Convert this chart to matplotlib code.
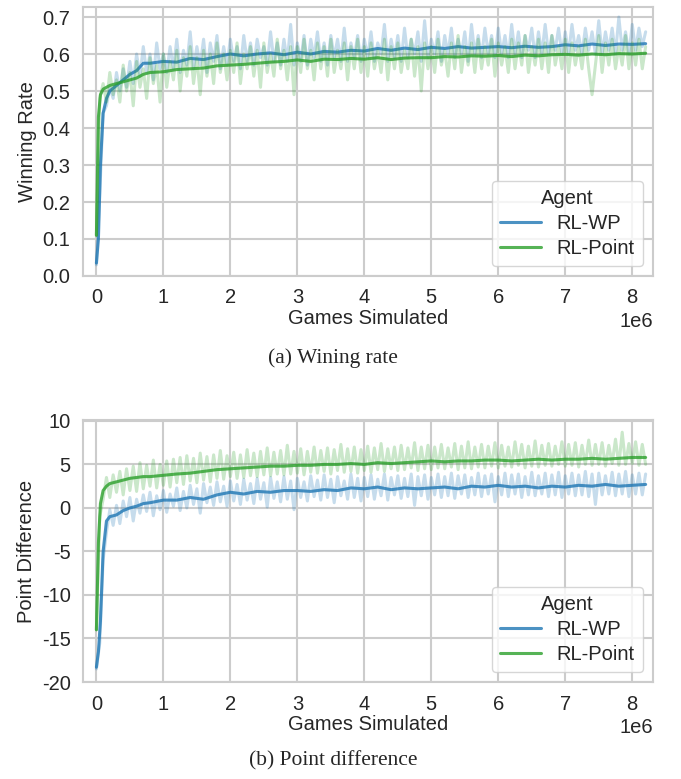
import numpy as np
import matplotlib
matplotlib.use('Agg')
import matplotlib.pyplot as plt
import seaborn as sns

sns.set_theme(style='whitegrid')
plt.rcParams['font.family'] = ['Liberation Sans', 'DejaVu Sans']
plt.rcParams['axes.unicode_minus'] = False

agents = ['RL-WP', 'RL-Point']
colors = ['#1f77b4', '#2ca02c']

# raw curves, one value every 0.05e6 games
raw_x = np.arange(165) * 0.05e6

win_raw_wp = [
    0.03, 0.22, 0.44, 0.46, 0.51, 0.48, 0.55, 0.50, 0.56, 0.51, 0.58, 0.52, 0.60, 0.54, 0.62, 0.55, 0.60, 0.53, 0.63, 0.56,
    0.60, 0.55, 0.62, 0.56, 0.64, 0.55, 0.61, 0.57, 0.66, 0.56, 0.62, 0.57, 0.64, 0.55, 0.63, 0.58, 0.65, 0.56, 0.62, 0.57,
    0.64, 0.58, 0.62, 0.56, 0.65, 0.58, 0.63, 0.57, 0.64, 0.59, 0.62, 0.57, 0.66, 0.58, 0.63, 0.57, 0.64, 0.58, 0.68, 0.57,
    0.63, 0.58, 0.65, 0.57, 0.64, 0.59, 0.66, 0.58, 0.63, 0.57, 0.65, 0.59, 0.64, 0.58, 0.67, 0.58, 0.63, 0.59, 0.65, 0.58,
    0.64, 0.59, 0.66, 0.58, 0.63, 0.60, 0.68, 0.58, 0.64, 0.59, 0.65, 0.58, 0.67, 0.59, 0.64, 0.60, 0.66, 0.58, 0.69, 0.59,
    0.64, 0.60, 0.66, 0.58, 0.65, 0.60, 0.67, 0.59, 0.64, 0.60, 0.66, 0.58, 0.68, 0.60, 0.65, 0.59, 0.67, 0.60, 0.65, 0.59,
    0.67, 0.60, 0.65, 0.59, 0.68, 0.60, 0.66, 0.59, 0.65, 0.61, 0.67, 0.59, 0.66, 0.60, 0.68, 0.60, 0.65, 0.61, 0.67, 0.60,
    0.66, 0.60, 0.68, 0.61, 0.65, 0.60, 0.67, 0.61, 0.66, 0.60, 0.69, 0.60, 0.66, 0.61, 0.67, 0.60, 0.70, 0.61, 0.66, 0.60,
    0.68, 0.61, 0.67, 0.62, 0.66]
win_raw_point = [
    0.11, 0.48, 0.52, 0.47, 0.55, 0.49, 0.53, 0.47, 0.57, 0.50, 0.55, 0.46, 0.58, 0.51, 0.56, 0.48, 0.59, 0.52, 0.57, 0.47,
    0.60, 0.51, 0.58, 0.53, 0.61, 0.50, 0.59, 0.54, 0.62, 0.52, 0.59, 0.49, 0.61, 0.54, 0.60, 0.52, 0.63, 0.55, 0.60, 0.53,
    0.61, 0.55, 0.63, 0.52, 0.60, 0.56, 0.62, 0.54, 0.61, 0.51, 0.63, 0.55, 0.60, 0.54, 0.64, 0.56, 0.61, 0.53, 0.62, 0.49,
    0.62, 0.55, 0.64, 0.56, 0.61, 0.53, 0.63, 0.56, 0.62, 0.54, 0.64, 0.55, 0.61, 0.56, 0.63, 0.53, 0.62, 0.56, 0.64, 0.55,
    0.62, 0.54, 0.63, 0.56, 0.61, 0.55, 0.64, 0.53, 0.62, 0.56, 0.63, 0.55, 0.61, 0.56, 0.64, 0.54, 0.62, 0.50, 0.63, 0.56,
    0.62, 0.55, 0.64, 0.57, 0.61, 0.54, 0.63, 0.56, 0.65, 0.55, 0.62, 0.57, 0.63, 0.55, 0.64, 0.56, 0.62, 0.57, 0.64, 0.54,
    0.63, 0.57, 0.62, 0.55, 0.64, 0.56, 0.63, 0.57, 0.65, 0.55, 0.62, 0.57, 0.64, 0.56, 0.63, 0.55, 0.65, 0.57, 0.62, 0.56,
    0.64, 0.55, 0.63, 0.57, 0.62, 0.56, 0.64, 0.56, 0.49, 0.57, 0.65, 0.55, 0.63, 0.57, 0.64, 0.56, 0.62, 0.57, 0.65, 0.56,
    0.63, 0.57, 0.64, 0.56, 0.62]
pd_raw_wp = [
    -18.5, -15.5, -6.0, -2.8, -0.2, -2.0, 0.3, -1.8, 0.8, -1.0, 1.2, -1.5, 1.0, -0.6, 1.5, -0.4, 1.8, -0.9, 1.4, -0.2,
    2.0, -0.5, 1.6, 0.2, 2.3, -0.3, 1.9, 0.0, 2.6, 0.4, 2.2, -0.6, 2.8, 0.6, 2.4, 0.3, 3.0, 0.7, 2.5, 0.2,
    3.1, 0.8, 2.7, 0.4, 3.3, 0.9, 2.8, 0.5, 3.4, 1.0, 2.9, 0.1, 3.5, 1.1, 3.0, 0.7, 3.6, 1.0, 3.1, -0.2,
    3.4, 1.2, 3.0, 0.8, 3.7, 1.3, 3.2, 0.9, 3.8, 1.2, 3.3, 0.6, 3.6, 1.4, 3.1, 1.0, 3.9, 1.2, 3.4, 0.8,
    3.5, 1.3, 3.8, 1.0, 3.3, 1.4, 3.9, 0.9, 3.5, 1.5, 3.7, 1.1, 3.4, 1.3, 3.9, 0.3, 3.6, 1.4, 3.8, 1.0,
    3.5, 1.5, 3.9, 1.2, 3.6, 1.4, 4.0, 1.1, 3.7, 1.6, 3.8, 1.2, 3.5, 1.5, 4.0, 1.3, 3.7, 1.6, 3.9, 0.7,
    3.6, 1.5, 4.0, 1.3, 3.8, 1.6, 3.9, 1.2, 3.6, 1.5, 4.1, 1.4, 3.7, 1.6, 4.0, 1.3, 3.8, 1.5, 4.1, 1.2,
    3.7, 1.6, 4.0, 1.4, 3.8, 1.5, 4.2, 1.3, 3.9, 0.4, 4.0, 1.5, 3.7, 1.6, 4.1, 1.4, 3.9, 1.6, 4.2, 1.3,
    3.8, 1.6, 4.0, 1.5, 3.9]
pd_raw_point = [
    -14.0, -1.0, 1.0, 3.5, 1.2, 3.8, 1.8, 4.2, 1.5, 4.5, 2.0, 4.8, 1.9, 5.2, 2.2, 4.9, 2.5, 5.5, 2.3, 5.0,
    2.6, 5.4, 2.4, 5.6, 2.9, 5.8, 2.7, 6.0, 3.1, 5.7, 2.9, 6.3, 3.2, 5.9, 3.0, 6.1, 3.4, 6.6, 3.3, 6.0,
    3.6, 6.4, 3.4, 6.1, 3.5, 6.7, 3.7, 6.3, 3.6, 6.5, 3.8, 6.9, 3.7, 6.4, 3.9, 6.6, 3.8, 7.2, 3.9, 6.5,
    4.0, 6.8, 3.8, 6.5, 4.1, 7.0, 4.0, 6.6, 4.2, 6.9, 3.9, 6.7, 4.3, 7.3, 4.1, 6.8, 4.2, 7.0, 4.0, 6.7,
    4.3, 7.1, 4.1, 6.9, 4.4, 7.4, 4.2, 6.8, 4.5, 7.0, 4.3, 7.2, 4.4, 6.9, 4.6, 7.5, 4.3, 7.0, 4.5, 7.2,
    4.4, 7.0, 4.6, 7.3, 4.5, 6.9, 4.7, 7.4, 4.4, 7.1, 4.6, 7.6, 4.5, 7.0, 4.7, 7.3, 4.6, 7.1, 4.8, 7.5,
    4.6, 7.2, 4.8, 7.0, 4.7, 7.6, 4.9, 7.3, 4.6, 7.1, 4.8, 7.7, 4.7, 7.2, 4.9, 7.4, 4.8, 7.1, 5.0, 7.6,
    4.8, 7.3, 4.9, 7.5, 4.7, 7.2, 5.0, 7.8, 4.9, 7.3, 5.0, 7.5, 4.8, 7.2, 5.1, 7.9, 4.9, 8.7, 5.0, 7.4,
    5.1, 7.6, 4.9, 7.3, 5.0]

# smoothed curves
smooth_x = np.array([0, 0.03, 0.06, 0.1, 0.15, 0.2, 0.3, 0.4, 0.5, 0.6, 0.7, 0.8, 1.0, 1.2, 1.4, 1.6, 1.8,
                     2.0, 2.2, 2.4, 2.6, 2.8, 3.0, 3.2, 3.4, 3.6, 3.8, 4.0, 4.2, 4.4, 4.6, 4.8, 5.0, 5.2,
                     5.4, 5.6, 5.8, 6.0, 6.2, 6.4, 6.6, 6.8, 7.0, 7.2, 7.4, 7.6, 7.8, 8.0, 8.2]) * 1e6
win_smooth_wp = [0.035, 0.10, 0.30, 0.44, 0.48, 0.50, 0.515, 0.53, 0.545, 0.555, 0.575, 0.575, 0.580, 0.578,
                 0.588, 0.585, 0.593, 0.600, 0.595, 0.600, 0.603, 0.598, 0.605, 0.600, 0.607, 0.605, 0.610,
                 0.608, 0.615, 0.610, 0.616, 0.612, 0.618, 0.615, 0.620, 0.616, 0.618, 0.620, 0.617, 0.621,
                 0.618, 0.620, 0.625, 0.622, 0.627, 0.623, 0.627, 0.626, 0.628]
win_smooth_point = [0.11, 0.43, 0.49, 0.505, 0.51, 0.515, 0.52, 0.525, 0.53, 0.535, 0.545, 0.55, 0.552, 0.558,
                    0.560, 0.562, 0.568, 0.570, 0.572, 0.575, 0.578, 0.580, 0.584, 0.580, 0.586, 0.585, 0.588,
                    0.586, 0.590, 0.585, 0.589, 0.590, 0.590, 0.593, 0.592, 0.595, 0.594, 0.596, 0.593, 0.597,
                    0.595, 0.598, 0.599, 0.597, 0.600, 0.598, 0.601, 0.600, 0.602]
pd_smooth_wp = [-18.3, -16.5, -13.0, -5.0, -1.5, -1.0, -0.8, -0.3, 0.0, 0.2, 0.5, 0.6, 0.9, 0.9, 1.2, 1.0,
                1.5, 1.8, 1.6, 1.9, 1.8, 2.0, 2.0, 1.9, 2.1, 2.0, 2.3, 2.2, 2.4, 2.1, 2.3, 2.2, 2.3, 2.4,
                2.2, 2.5, 2.4, 2.6, 2.4, 2.5, 2.3, 2.5, 2.4, 2.6, 2.5, 2.7, 2.5, 2.6, 2.7]
pd_smooth_point = [-14.0, -4.0, 0.5, 2.0, 2.5, 2.8, 3.0, 3.2, 3.4, 3.5, 3.6, 3.6, 3.75, 3.9, 4.0, 4.2, 4.4,
                   4.5, 4.6, 4.7, 4.8, 4.8, 4.9, 4.9, 5.0, 5.0, 5.1, 5.0, 5.2, 5.1, 5.2, 5.3, 5.4, 5.3,
                   5.4, 5.4, 5.5, 5.5, 5.4, 5.5, 5.6, 5.5, 5.6, 5.6, 5.7, 5.6, 5.7, 5.8, 5.8]

fs = 14.5

fig = plt.figure(figsize=(6.81, 7.79), dpi=100)
ax1 = fig.add_axes([0.1219, 0.6457, 0.837, 0.3453])
ax2 = fig.add_axes([0.1219, 0.1245, 0.837, 0.3363])

panels = [
    (ax1, [win_raw_wp, win_raw_point], [win_smooth_wp, win_smooth_point], 'Winning Rate', (0, 0.727)),
    (ax2, [pd_raw_wp, pd_raw_point], [pd_smooth_wp, pd_smooth_point], 'Point Difference', (-20, 10.1)),
]
for ax, raws, smooths, ylabel, ylim in panels:
    for raw, sm, name, c in zip(raws, smooths, agents, colors):
        ax.plot(raw_x, raw, color=c, alpha=0.25, lw=2.2)
        ax.plot(smooth_x, sm, color=c, alpha=0.8, lw=2.2, label=name)
    ax.set_xlim(-0.2e6, 8.31e6)
    ax.set_ylim(*ylim)
    ax.set_xticks(np.arange(0, 9) * 1e6)
    ax.set_xlabel('Games Simulated', fontsize=fs, labelpad=1)
    ax.set_ylabel(ylabel, fontsize=fs, labelpad=4)
    ax.tick_params(labelsize=fs, pad=3)
    ax.xaxis.get_offset_text().set_fontsize(fs)
    for s in ax.spines.values():
        s.set_linewidth(1.5)
        s.set_color('#cccccc')
    ax.grid(True, color='#cccccc', lw=1.5)
    leg = ax.legend(title='Agent', loc='lower right', fontsize=fs, title_fontsize=fs,
                    handlelength=2.0, borderaxespad=0.5, labelspacing=0.3, borderpad=0.4)

ax1.yaxis.set_major_locator(matplotlib.ticker.MultipleLocator(0.1))
ax2.set_yticks([-20, -15, -10, -5, 0, 5, 10])

fig.text(0.489, 1 - 358 / 779, '(a) Wining rate', ha='center', va='center',
         family='Liberation Serif', fontsize=15.5)
fig.text(0.489, 1 - 761 / 779, '(b) Point difference', ha='center', va='center',
         family='Liberation Serif', fontsize=15.5)

fig.savefig('out.png', dpi=100)
